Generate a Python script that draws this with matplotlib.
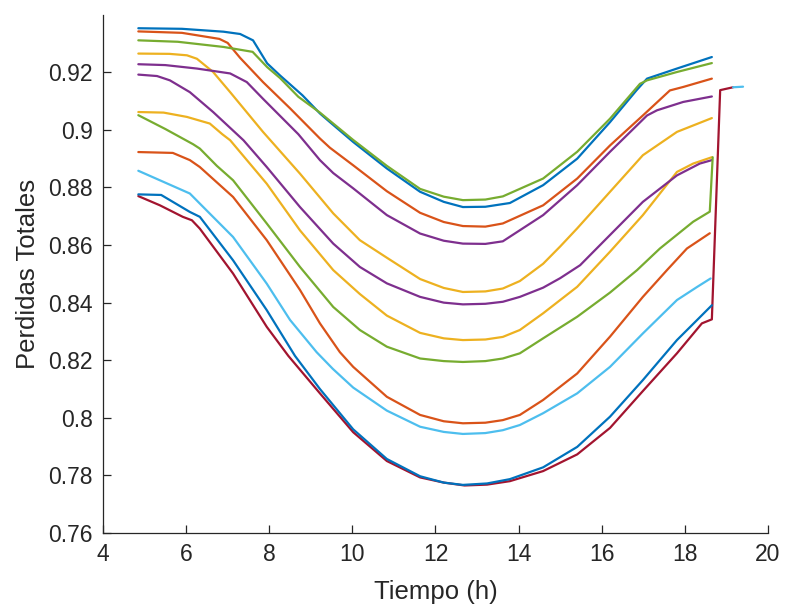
import matplotlib
matplotlib.use("Agg")
import matplotlib.pyplot as plt

plt.rcParams['font.family'] = ['Liberation Sans', 'DejaVu Sans']

# MATLAB default colour order
C_BLUE = (0.000, 0.447, 0.741)
C_ORANGE = (0.850, 0.325, 0.098)
C_YELLOW = (0.929, 0.694, 0.125)
C_PURPLE = (0.494, 0.184, 0.556)
C_GREEN = (0.466, 0.674, 0.188)
C_LBLUE = (0.301, 0.745, 0.933)
C_RED = (0.635, 0.078, 0.184)

# ---- data ----
blue1_x = [4.85, 5.9, 6.9, 7.3, 7.61, 7.95, 8.26, 8.8, 9.22, 9.46, 10.02, 10.83, 11.63, 12.2, 12.66,
           13.2, 13.79, 14.59, 15.41, 16.2, 16.84, 17.09, 17.81, 18.65]
blue1_y = [0.9353, 0.9351, 0.9341, 0.9333, 0.9311, 0.9231, 0.9189, 0.9120, 0.9057, 0.9027, 0.8958,
           0.8866, 0.8785, 0.8750, 0.8732, 0.8733, 0.8746, 0.8808, 0.8900, 0.9027, 0.9138, 0.9178,
           0.9213, 0.9253]

orange1_x = [4.85, 5.9, 6.8, 7.0, 7.3, 7.85, 8.5, 9.22, 9.46, 10.02, 10.83, 11.63, 12.2, 12.66, 13.2,
             13.62, 14.59, 15.41, 16.2, 16.99, 17.64, 17.96, 18.65]
orange1_y = [0.9342, 0.9337, 0.9316, 0.9302, 0.9250, 0.9166, 0.9075, 0.8970, 0.8938, 0.8877, 0.8787,
             0.8712, 0.8680, 0.8666, 0.8664, 0.8675, 0.8738, 0.8831, 0.8946, 0.9050, 0.9137, 0.9149,
             0.9178]

yellow1_x = [4.85, 5.6, 6.02, 6.26, 6.65, 7.06, 7.85, 8.74, 9.54, 10.18, 10.83, 11.63, 12.2, 12.66,
             13.2, 13.62, 14.03, 14.59, 15.0, 15.41, 16.2, 16.99, 17.81, 18.65]
yellow1_y = [0.9265, 0.9264, 0.9259, 0.9247, 0.9201, 0.9131, 0.8993, 0.8848, 0.8710, 0.8617, 0.8556,
             0.8482, 0.8451, 0.8437, 0.8439, 0.8449, 0.8475, 0.8535, 0.8595, 0.8658, 0.8785, 0.8912,
             0.8993, 0.9041]

purple1_x = [4.85, 5.5, 6.26, 7.06, 7.46, 7.85, 8.7, 9.22, 9.54, 10.02, 10.83, 11.63, 12.2, 12.66,
             13.2, 13.62, 14.59, 15.41, 16.2, 17.09, 17.33, 17.96, 18.65]
purple1_y = [0.9228, 0.9225, 0.9213, 0.9196, 0.9166, 0.9108, 0.8985, 0.8895, 0.8850, 0.8797, 0.8704,
             0.8640, 0.8615, 0.8605, 0.8604, 0.8613, 0.8704, 0.8808, 0.8924, 0.9050, 0.9068, 0.9097,
             0.9116]

green1_x = [4.85, 5.8, 6.9, 7.6, 7.95, 8.26, 8.7, 9.22, 10.02, 10.83, 11.63, 12.2, 12.66, 13.2, 13.62,
            14.59, 15.41, 16.2, 16.92, 17.09, 17.81, 18.65]
green1_y = [0.9311, 0.9306, 0.9288, 0.9271, 0.9218, 0.9180, 0.9115, 0.9060, 0.8965, 0.8875, 0.8795,
            0.8768, 0.8756, 0.8758, 0.8769, 0.8831, 0.8924, 0.9039, 0.9160, 0.9172, 0.9201, 0.9232]

lblue1_x = [4.85, 6.09, 6.33, 7.13, 7.94, 8.5, 9.14, 9.53, 10.02, 10.83, 11.63, 12.2, 12.66, 13.2,
            13.62, 14.03, 14.59, 15.41, 16.2, 16.99, 17.81, 18.3, 18.62]
lblue1_y = [0.8858, 0.8779, 0.8744, 0.8628, 0.8466, 0.8340, 0.8228, 0.8170, 0.8105, 0.8025, 0.7969,
            0.7951, 0.7944, 0.7947, 0.7957, 0.7975, 0.8016, 0.8085, 0.8177, 0.8293, 0.8409, 0.8455,
            0.8484]

red_x = [4.85, 5.37, 5.92, 6.14, 6.33, 7.13, 7.94, 8.46, 9.22, 10.02, 10.83, 11.63, 12.2, 12.7, 13.24,
         13.79, 14.59, 15.41, 16.2, 16.99, 17.81, 18.41, 18.65, 18.85, 19.16]
red_y = [0.8770, 0.8738, 0.8698, 0.8686, 0.8657, 0.8501, 0.8316, 0.8215, 0.8085, 0.7950, 0.7850,
         0.7793, 0.7775, 0.7765, 0.7768, 0.7780, 0.7815, 0.7873, 0.7965, 0.8093, 0.8224, 0.8328,
         0.8342, 0.9138, 0.9148]

blue2_x = [4.85, 5.4, 6.09, 6.33, 7.13, 7.94, 8.62, 9.22, 10.02, 10.83, 11.63, 12.2, 12.66, 13.24,
           13.79, 14.59, 15.41, 16.2, 16.99, 17.81, 18.29, 18.65]
blue2_y = [0.8776, 0.8774, 0.8715, 0.8698, 0.8547, 0.8374, 0.8215, 0.8100, 0.7960, 0.7857, 0.7797,
           0.7775, 0.7767, 0.7772, 0.7787, 0.7828, 0.7899, 0.8004, 0.8131, 0.8270, 0.8339, 0.8391]

orange2_x = [4.85, 5.68, 6.09, 6.33, 7.13, 7.94, 8.74, 9.22, 9.70, 10.02, 10.83, 11.63, 12.2, 12.66,
             13.2, 13.62, 14.03, 14.59, 15.41, 16.2, 16.99, 17.57, 18.05, 18.6]
orange2_y = [0.8923, 0.8920, 0.8895, 0.8871, 0.8767, 0.8617, 0.8444, 0.8328, 0.8228, 0.8177, 0.8073,
             0.8010, 0.7988, 0.7981, 0.7983, 0.7992, 0.8010, 0.8062, 0.8154, 0.8282, 0.8420, 0.8513,
             0.8588, 0.8641]

yellow2_x = [4.85, 5.46, 6.02, 6.57, 6.87, 7.06, 7.94, 8.74, 9.54, 10.18, 10.83, 11.63, 12.2, 12.66,
             13.2, 13.62, 14.03, 14.59, 15.41, 16.2, 16.99, 17.81, 18.2, 18.65]
yellow2_y = [0.9062, 0.9060, 0.9045, 0.9022, 0.8985, 0.8964, 0.8813, 0.8651, 0.8513, 0.8430, 0.8355,
             0.8295, 0.8276, 0.8270, 0.8272, 0.8281, 0.8305, 0.8363, 0.8455, 0.8577, 0.8704, 0.8854,
             0.8883, 0.8905]

purple2_x = [4.85, 5.30, 5.61, 6.09, 6.65, 7.38, 7.94, 8.74, 9.54, 10.18, 10.83, 11.63, 12.2, 12.66,
             13.2, 13.62, 14.03, 14.59, 15.0, 15.48, 16.2, 16.99, 17.81, 18.36, 18.65]
purple2_y = [0.9192, 0.9187, 0.9172, 0.9131, 0.9062, 0.8964, 0.8871, 0.8732, 0.8605, 0.8524, 0.8467,
             0.8420, 0.8400, 0.8394, 0.8396, 0.8403, 0.8420, 0.8452, 0.8485, 0.8530, 0.8635, 0.8750,
             0.8842, 0.8883, 0.8895]

green2_x = [4.85, 5.5, 6.17, 6.33, 6.74, 7.13, 7.94, 8.74, 9.54, 10.18, 10.83, 11.63, 12.2, 12.66,
            13.2, 13.62, 14.03, 14.59, 15.41, 16.2, 16.85, 17.4, 18.2, 18.6, 18.67]
green2_y = [0.9051, 0.9003, 0.8950, 0.8935, 0.8875, 0.8825, 0.8675, 0.8524, 0.8385, 0.8305, 0.8247,
            0.8206, 0.8197, 0.8194, 0.8197, 0.8206, 0.8224, 0.8276, 0.8351, 0.8435, 0.8513, 0.8588,
            0.8681, 0.8716, 0.8905]

lblue2_x = [19.16, 19.4]
lblue2_y = [0.9148, 0.9150]

series = [
    (blue1_x, blue1_y, C_BLUE),
    (orange1_x, orange1_y, C_ORANGE),
    (yellow1_x, yellow1_y, C_YELLOW),
    (purple1_x, purple1_y, C_PURPLE),
    (green1_x, green1_y, C_GREEN),
    (lblue1_x, lblue1_y, C_LBLUE),
    (red_x, red_y, C_RED),
    (blue2_x, blue2_y, C_BLUE),
    (orange2_x, orange2_y, C_ORANGE),
    (yellow2_x, yellow2_y, C_YELLOW),
    (purple2_x, purple2_y, C_PURPLE),
    (green2_x, green2_y, C_GREEN),
    (lblue2_x, lblue2_y, C_LBLUE),
]

x_ticks = [4, 6, 8, 10, 12, 14, 16, 18, 20]
y_ticks = [0.76, 0.78, 0.80, 0.82, 0.84, 0.86, 0.88, 0.90, 0.92]
y_tick_labels = ['0.76', '0.78', '0.8', '0.82', '0.84', '0.86', '0.88', '0.9', '0.92']
x_label = 'Tiempo (h)'
y_label = 'Perdidas Totales'

# ---- figure ----
fig = plt.figure(figsize=(7.85, 6.12), dpi=100)
ax = fig.add_axes([0.1312, 0.1291, 0.8471, 0.8464])

for xs, ys, col in series:
    ax.plot(xs, ys, color=col, linewidth=1.6, solid_joinstyle='round', solid_capstyle='round')

axcol = (0.15, 0.15, 0.15)
ax.set_xlim(4, 20)
ax.set_ylim(0.76, 0.9399)
ax.set_xticks(x_ticks)
ax.set_xticklabels([str(t) for t in x_ticks])
ax.set_yticks(y_ticks)
ax.set_yticklabels(y_tick_labels)
ax.spines['top'].set_visible(False)
ax.spines['right'].set_visible(False)
for s in ('left', 'bottom'):
    ax.spines[s].set_color(axcol)
    ax.spines[s].set_linewidth(0.9)
ax.tick_params(direction='in', length=5.5, width=0.9, colors=axcol, labelsize=16.5, pad=7.5)
ax.set_xlabel(x_label, fontsize=18.5, color=axcol, labelpad=10)
ax.set_ylabel(y_label, fontsize=18.5, color=axcol, labelpad=6)

fig.savefig('out.png', dpi=100)
